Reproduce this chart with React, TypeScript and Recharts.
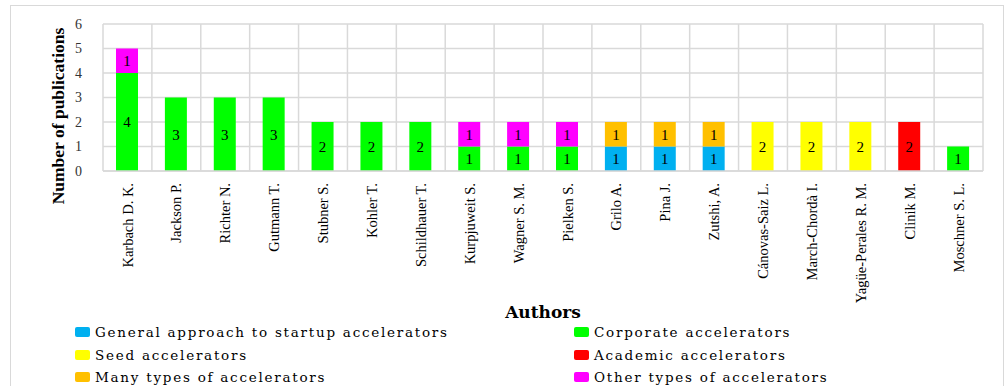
import React from 'react';
import { BarChart, Bar, XAxis, YAxis, CartesianGrid, LabelList } from 'recharts';

const categories = [
  'Karbach D. K.', 'Jackson P.', 'Richter N.', 'Gutmann T.', 'Stubner S.', 'Kohler T.',
  'Schildhauer T.', 'Kurpjuweit S.', 'Wagner S. M.', 'Pielken S.', 'Grilo A.', 'Pina J.',
  'Zutshi, A.', 'Cánovas-Saiz L.', 'March-Chordà I.', 'Yagüe-Perales R. M.', 'Clinik M.', 'Moschner S. L.',
];
const general = [0, 0, 0, 0, 0, 0, 0, 0, 0, 0, 1, 1, 1, 0, 0, 0, 0, 0];
const corporate = [4, 3, 3, 3, 2, 2, 2, 1, 1, 1, 0, 0, 0, 0, 0, 0, 0, 1];
const seed = [0, 0, 0, 0, 0, 0, 0, 0, 0, 0, 0, 0, 0, 2, 2, 2, 0, 0];
const academic = [0, 0, 0, 0, 0, 0, 0, 0, 0, 0, 0, 0, 0, 0, 0, 0, 2, 0];
const many = [0, 0, 0, 0, 0, 0, 0, 0, 0, 0, 1, 1, 1, 0, 0, 0, 0, 0];
const other = [1, 0, 0, 0, 0, 0, 0, 1, 1, 1, 0, 0, 0, 0, 0, 0, 0, 0];
const yTicks = [0, 1, 2, 3, 4, 5, 6];

const series = [
  { key: 'general', name: 'General approach to startup accelerators', color: '#00B0F0', values: general },
  { key: 'corporate', name: 'Corporate accelerators', color: '#00FF00', values: corporate },
  { key: 'seed', name: 'Seed accelerators', color: '#FFFF00', values: seed },
  { key: 'academic', name: 'Academic accelerators', color: '#FF0000', values: academic },
  { key: 'many', name: 'Many types of accelerators', color: '#FFC000', values: many },
  { key: 'other', name: 'Other types of accelerators', color: '#FF00FF', values: other },
];

const data = categories.map((c, i) => {
  const row: any = { name: c };
  series.forEach((s) => {
    row[s.key] = s.values[i] ? s.values[i] : null;
  });
  return row;
});

const serif = '"Liberation Serif", "Times New Roman", serif';

const renderLabel = (props: any) => {
  const { x, y, width, height, value } = props;
  if (value === null || value === undefined || value === 0) return null;
  return (
    <text x={x + width / 2} y={y + height / 2} dy="0.35em" textAnchor="middle" fontFamily={serif} fontSize={15} fill="#000">
      {value}
    </text>
  );
};

const XTick = (props: any) => {
  const { x, y, payload } = props;
  return (
    <text transform={`translate(${x},${y}) rotate(-90)`} textAnchor="end" dy="0.35em" fontFamily={serif} fontSize={14.5} fill="#000">
      {payload.value}
    </text>
  );
};

const grid = '#d9d9d9';

export default function App() {
  return (
    <div style={{ position: 'absolute', left: 0, top: 0, width: 1006, height: 386, overflow: 'hidden', background: '#fff' }}>
      <div style={{ position: 'absolute', left: 10, top: 5, width: 994, height: 420, border: `1px solid ${grid}`, boxSizing: 'border-box' }} />
      <div style={{ position: 'absolute', left: 0, top: 0 }}>
        <BarChart width={1006} height={386} data={data} margin={{ top: 24, right: 23, bottom: 0, left: 63 }} barSize={22}>
          <CartesianGrid
            stroke={grid}
            strokeWidth={1.5}
            verticalCoordinatesGenerator={(p: any) => {
              const { offset } = p;
              const n = categories.length;
              return Array.from({ length: n + 1 }, (_, i) => offset.left + (i * offset.width) / n);
            }}
          />
          <XAxis
            dataKey="name"
            interval={0}
            height={215}
            tick={<XTick />}
            tickLine={false}
            axisLine={{ stroke: grid, strokeWidth: 1.5 }}
            tickSize={0}
            tickMargin={12}
          />
          <YAxis
            width={40}
            domain={[0, 6]}
            ticks={yTicks}
            interval={0}
            tickLine={false}
            axisLine={false}
            tickSize={0}
            tickMargin={21}
            tick={{ fontFamily: serif, fontSize: 14, fill: '#333' }}
          />
          {series.map((s) => (
            <Bar key={s.key} dataKey={s.key} name={s.name} stackId="a" fill={s.color} isAnimationActive={false}>
              <LabelList dataKey={s.key} content={renderLabel} />
            </Bar>
          ))}
        </BarChart>
      </div>
      <svg style={{ position: 'absolute', left: 0, top: 0, pointerEvents: 'none' }} width={1006} height={386}>
        <text transform="translate(58,116) rotate(-90)" textAnchor="middle" dy="0.35em" fontFamily={serif} fontWeight="bold" fontSize={17.5} fill="#000">
          Number of publications
        </text>
        <text x={543} y={312} textAnchor="middle" dy="0.35em" fontFamily='"DejaVu Serif", serif' fontWeight="bold" fontSize={17} fill="#000">
          Authors
        </text>
      </svg>
      {series.map((s, i) => {
        const col = i % 2;
        const row = Math.floor(i / 2);
        return (
          <div
            key={s.key}
            style={{
              position: 'absolute',
              left: col === 0 ? 75 : 574,
              top: 332 + row * 22.5 - 10,
              height: 20,
              display: 'flex',
              alignItems: 'center',
              whiteSpace: 'nowrap',
              fontFamily: '"DejaVu Serif", serif',
              fontSize: 13.5,
              letterSpacing: 1.75,
              color: '#000',
            }}
          >
            <span style={{ display: 'inline-block', width: 15, height: 10, background: s.color, borderRadius: 2, marginRight: 5 }} />
            {s.name}
          </div>
        );
      })}
    </div>
  );
}
